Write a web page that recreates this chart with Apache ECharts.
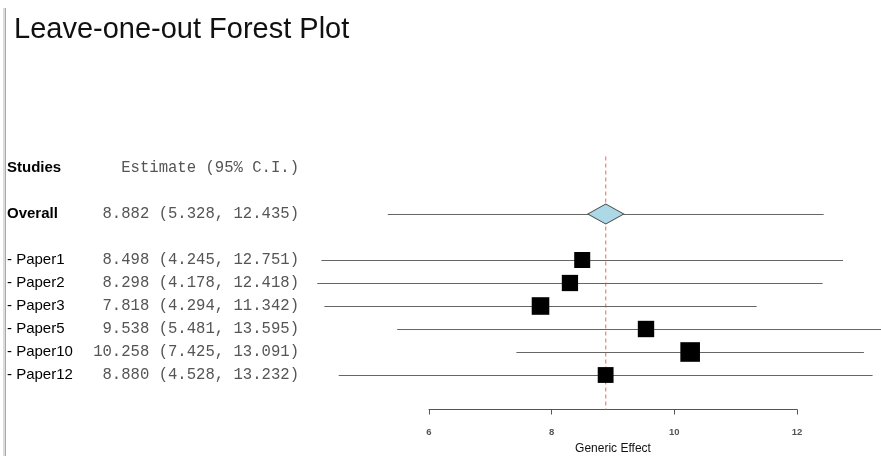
<!DOCTYPE html>
<html>
<head>
<meta charset="utf-8">
<script src="https://cdn.jsdelivr.net/npm/echarts@6/dist/echarts.min.js"></script>
<style>
  html, body { margin: 0; padding: 0; background: #fff; }
  #chart { width: 881px; height: 456px; }
</style>
</head>
<body>
<div id="chart"></div>
<script>
// Leave-one-out meta-analysis results
const studies  = ['Paper1', 'Paper2', 'Paper3', 'Paper5', 'Paper10', 'Paper12'];
const estimates = [8.498, 8.298, 7.818, 9.538, 10.258, 8.880];
const lowerCI   = [4.245, 4.178, 4.294, 5.481, 7.425, 4.528];
const upperCI   = [12.751, 12.418, 11.342, 13.595, 13.091, 13.232];

const overallEstimate = 8.882;
const overallLower    = 5.328;
const overallUpper    = 12.435;

const xTicks = [6, 8, 10, 12];

// Row layout: header row, blank, overall, blank, then one row per study
const headerRow  = 0;
const overallRow = 2;
const studyRows  = studies.map((_, i) => 4 + i);

const fmt = v => v.toFixed(3);
const ciText = (e, l, u) => `${fmt(e)} (${fmt(l)}, ${fmt(u)})`;

// Table rows: [row, label, text, bold]
const tableRows = [
  [headerRow, 'Studies', 'Estimate (95% C.I.)', 1],
  [overallRow, 'Overall', ciText(overallEstimate, overallLower, overallUpper), 1]
].concat(studies.map((s, i) => [studyRows[i], '- ' + s, ciText(estimates[i], lowerCI[i], upperCI[i]), 0]));

// Interval segments: [lower, upper, row]
const ciSegments = [[overallLower, overallUpper, overallRow]]
  .concat(studies.map((_, i) => [lowerCI[i], upperCI[i], studyRows[i]]));

// Study boxes: [estimate, row, lower, upper]; box side shrinks as the interval widens
const boxes = studies.map((_, i) => [estimates[i], studyRows[i], lowerCI[i], upperCI[i]]);

const chart = echarts.init(document.getElementById('chart'), null, { renderer: 'canvas' });

chart.setOption({
  animation: false,
  backgroundColor: '#ffffff',
  title: {
    text: 'Leave-one-out Forest Plot',
    left: 9,
    top: 10,
    textStyle: { fontFamily: 'Liberation Sans', fontSize: 29, fontWeight: 'normal', color: '#111' }
  },
  graphic: [
    { type: 'rect', shape: { x: 3, y: 8, width: 2, height: 448 }, style: { fill: '#dcdcdc' }, z: 100 },
    { type: 'rect', shape: { x: 5, y: 8, width: 1, height: 448 }, style: { fill: '#a8a8a8' }, z: 100 }
  ],
  grid: { left: 429, right: 84, top: 156.5, bottom: 46.5, containLabel: false, outerBoundsMode: 'none' },
  xAxis: {
    type: 'value',
    min: xTicks[0],
    max: xTicks[xTicks.length - 1],
    interval: xTicks[1] - xTicks[0],
    name: 'Generic Effect',
    nameLocation: 'middle',
    nameGap: 32,
    nameTextStyle: { fontFamily: 'Liberation Sans', fontSize: 12, color: '#111' },
    axisLine: { show: true, onZero: false, lineStyle: { color: '#555', width: 1 } },
    axisTick: { show: true, length: 5, lineStyle: { color: '#555' } },
    axisLabel: { fontFamily: 'Liberation Sans', fontSize: 9.5, fontWeight: 'bold', color: '#555', margin: 18 },
    splitLine: { show: false }
  },
  yAxis: {
    type: 'value',
    min: -0.5,
    max: 10.5,
    inverse: true,
    show: false
  },
  series: [
    {
      // reference line at the overall estimate
      type: 'line',
      data: [[overallEstimate, -0.5], [overallEstimate, 10.5]],
      symbol: 'none',
      lineStyle: { color: '#f06464', width: 1, type: [4, 3] },
      z: 2
    },
    {
      // confidence interval segments
      type: 'custom',
      data: ciSegments,
      clip: false,
      renderItem: (params, api) => {
        const a = api.coord([api.value(0), api.value(2)]);
        const b = api.coord([api.value(1), api.value(2)]);
        return {
          type: 'line',
          shape: { x1: a[0], y1: Math.round(a[1]) + 0.5, x2: b[0], y2: Math.round(b[1]) + 0.5 },
          style: { stroke: '#666', lineWidth: 1 }
        };
      },
      z: 3
    },
    {
      // pooled estimate
      type: 'scatter',
      data: [[overallEstimate, overallRow]],
      symbol: 'diamond',
      symbolSize: [36, 20],
      itemStyle: { color: '#add8e6', borderColor: '#4a4a4a', borderWidth: 1, opacity: 1 },
      z: 5
    },
    {
      // leave-one-out estimates
      type: 'scatter',
      data: boxes,
      symbol: 'rect',
      symbolSize: v => 46.7 / Math.sqrt(v[3] - v[2]),
      itemStyle: { color: '#000', opacity: 1 },
      z: 5
    },
    {
      // study labels and estimate text column
      type: 'custom',
      data: tableRows,
      clip: false,
      encode: { x: -1, y: 0 },
      renderItem: (params, api) => {
        const row = tableRows[params.dataIndex];
        const y = api.coord([xTicks[0], row[0]])[1];
        return {
          type: 'group',
          children: [
            {
              type: 'text',
              style: {
                x: 7, y: y,
                text: row[1],
                font: (row[3] ? 'bold ' : '') + '15px "Liberation Sans"',
                fill: '#000',
                textAlign: 'left', textVerticalAlign: 'middle'
              }
            },
            {
              type: 'text',
              style: {
                x: 299, y: y,
                text: row[2],
                font: '15.6px "Liberation Mono"',
                fill: '#555',
                textAlign: 'right', textVerticalAlign: 'middle'
              }
            }
          ]
        };
      },
      z: 10
    }
  ]
});
</script>
</body>
</html>
